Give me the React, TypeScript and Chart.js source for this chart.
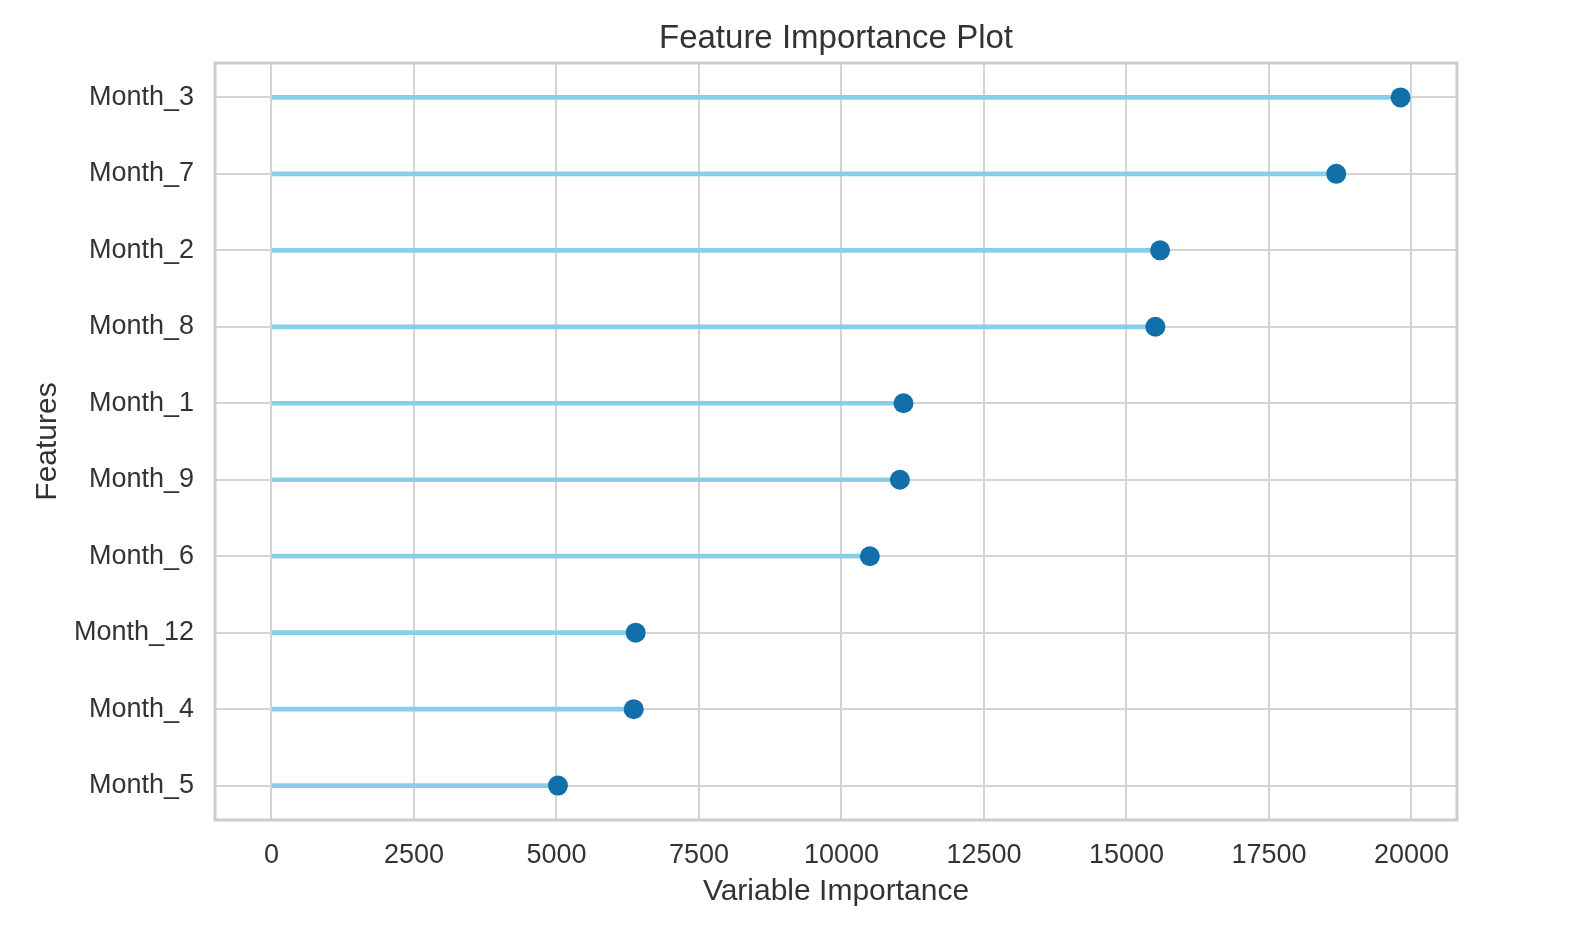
import React, { useEffect, useRef } from "react";
import { Chart, registerables } from "chart.js";

Chart.register(...registerables);

const features: string[] = [
  "Month_3",
  "Month_7",
  "Month_2",
  "Month_8",
  "Month_1",
  "Month_9",
  "Month_6",
  "Month_12",
  "Month_4",
  "Month_5",
];

const importance: number[] = [19808, 18680, 15590, 15507, 11088, 11025, 10498, 6390, 6355, 5026];

const xTicks: number[] = [0, 2500, 5000, 7500, 10000, 12500, 15000, 17500, 20000];

const titleText = "Feature Importance Plot";
const xTitle = "Variable Importance";
const yTitle = "Features";

const FONT = "'Liberation Sans', Arial, sans-serif";
const TEXT = "#333333";

export default function App() {
  const ref = useRef<HTMLCanvasElement | null>(null);

  useEffect(() => {
    const canvas = ref.current;
    if (!canvas) return;

    const maxVal = Math.max(...importance);
    const margin = maxVal * 0.05;
    const nCat = features.length;
    const yMargin = (nCat - 1) * 0.05;

    const framePlugin = {
      id: "frameAndTitle",
      beforeDatasetsDraw(chart: any) {
        const { ctx, chartArea } = chart;
        ctx.save();
        ctx.strokeStyle = "#cccccc";
        ctx.lineWidth = 3;
        ctx.strokeRect(
          chartArea.left,
          chartArea.top,
          chartArea.right - chartArea.left,
          chartArea.bottom - chartArea.top
        );
        ctx.restore();
      },
      afterDraw(chart: any) {
        const { ctx, chartArea } = chart;
        ctx.save();
        ctx.fillStyle = TEXT;
        ctx.font = `33px ${FONT}`;
        ctx.textAlign = "center";
        ctx.textBaseline = "middle";
        ctx.fillText(titleText, (chartArea.left + chartArea.right) / 2, 39);
        ctx.restore();
      },
    };

    const chart = new Chart(canvas, {
      type: "bar",
      data: {
        datasets: [
          {
            type: "line",
            indexAxis: "y",
            data: importance.map((v, i) => ({ x: v, y: i })),
            showLine: false,
            pointRadius: 10,
            pointHoverRadius: 10,
            pointBackgroundColor: "#1170aa",
            pointBorderWidth: 0,
            borderColor: "#1170aa",
            backgroundColor: "#1170aa",
            order: 0,
          } as any,
          {
            type: "bar",
            indexAxis: "y",
            data: importance.map((v, i) => ({ x: v, y: i })),
            backgroundColor: "#87ceeb",
            borderWidth: 0,
            barThickness: 4,
            order: 1,
          } as any,
        ],
      },
      options: {
        indexAxis: "y",
        responsive: false,
        animation: false,
        events: [],
        layout: { padding: { top: 63, right: 125, bottom: 0, left: 0 } },
        plugins: {
          legend: { display: false },
          title: { display: false },
          tooltip: { enabled: false },
        },
        scales: {
          x: {
            type: "linear",
            position: "bottom",
            offset: false,
            min: -margin,
            max: maxVal + margin,
            afterBuildTicks: (scale: any) => {
              scale.ticks = xTicks.map((v) => ({ value: v }));
            },
            afterFit: (scale: any) => {
              scale.height = 114;
            },
            border: { display: false },
            grid: { color: "#d4d4d4", lineWidth: 2, drawTicks: false, offset: false },
            ticks: {
              color: TEXT,
              font: { family: FONT, size: 27 },
              padding: 19,
              maxRotation: 0,
              autoSkip: false,
              callback: (v: any) => String(v),
            },
            title: {
              display: true,
              text: xTitle,
              color: TEXT,
              font: { family: FONT, size: 30 },
              padding: { top: 0, bottom: 24 },
            },
          },
          y: {
            type: "linear",
            position: "left",
            reverse: true,
            offset: false,
            min: -yMargin,
            max: nCat - 1 + yMargin,
            afterBuildTicks: (scale: any) => {
              scale.ticks = features.map((_, i) => ({ value: i }));
            },
            afterFit: (scale: any) => {
              scale.width = 215;
            },
            border: { display: false },
            grid: { color: "#d4d4d4", lineWidth: 2, drawTicks: false, offset: false },
            ticks: {
              color: TEXT,
              font: { family: FONT, size: 27 },
              padding: 21,
              autoSkip: false,
              callback: (v: any) => features[Number(v)] ?? "",
            },
            title: {
              display: true,
              text: yTitle,
              color: TEXT,
              font: { family: FONT, size: 30 },
              padding: { top: 30, bottom: 0 },
            },
          },
        },
      } as any,
      plugins: [framePlugin],
    });

    return () => {
      chart.destroy();
    };
  }, []);

  return (
    <div
      style={{
        position: "fixed",
        left: 0,
        top: 0,
        width: 1582,
        height: 934,
        background: "#ffffff",
      }}
    >
      <canvas ref={ref} width={1582} height={934} style={{ display: "block" }} />
    </div>
  );
}
